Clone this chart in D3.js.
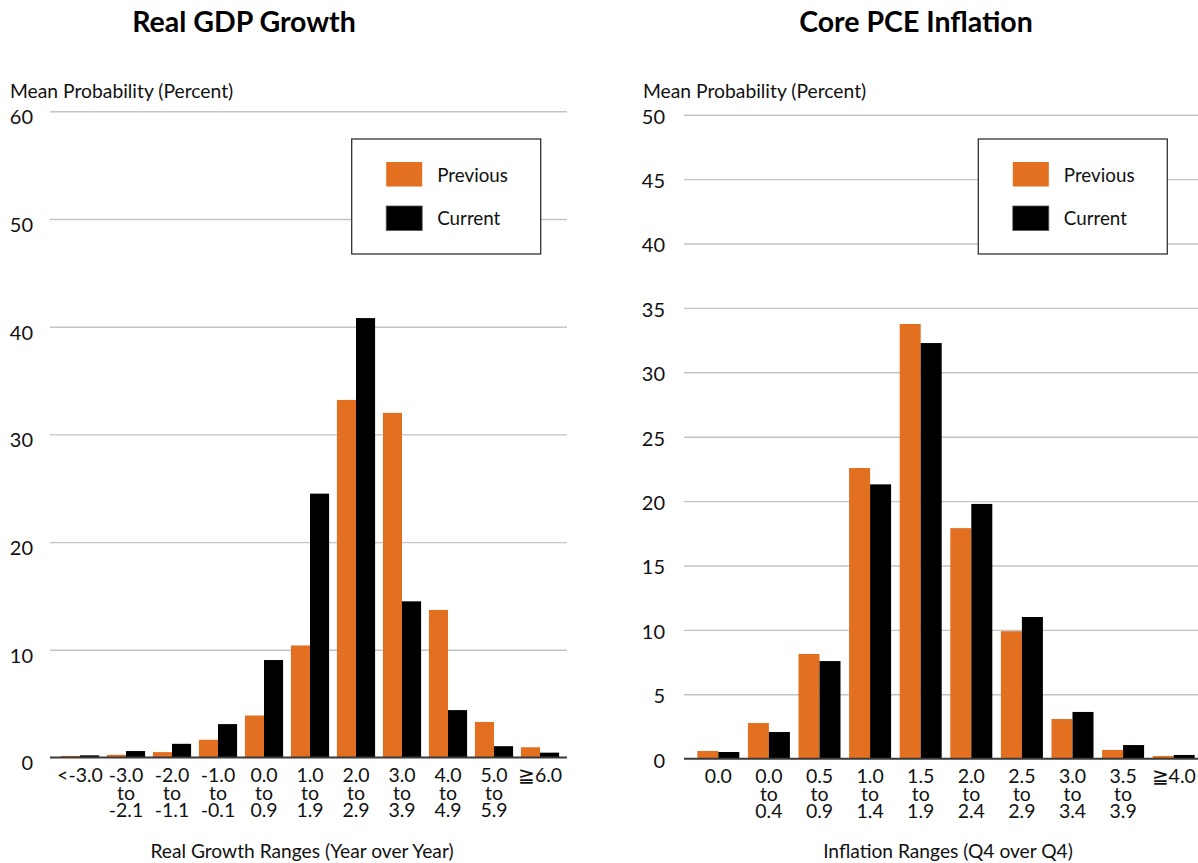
<!DOCTYPE html>
<html>
<head>
<meta charset="utf-8">
<script src="https://cdn.jsdelivr.net/npm/d3@7"></script>
<style>
  html, body { margin: 0; padding: 0; background: #fff; }
  svg { display: block; font-family: Lato, "Open Sans", sans-serif; }
</style>
</head>
<body>
<svg id="chart" width="1198" height="863"></svg>
<script>
// ---------- DATA ----------
const gdpCategories = ["<-3.0", "-3.0\nto\n-2.1", "-2.0\nto\n-1.1", "-1.0\nto\n-0.1", "0.0\nto\n0.9",
  "1.0\nto\n1.9", "2.0\nto\n2.9", "3.0\nto\n3.9", "4.0\nto\n4.9", "5.0\nto\n5.9", "\u22676.0"];
const gdpPrevious = [0.15, 0.25, 0.5, 1.65, 3.9, 10.4, 33.2, 32.0, 13.7, 3.3, 0.95];
const gdpCurrent  = [0.2, 0.6, 1.27, 3.1, 9.05, 24.5, 40.8, 14.5, 4.4, 1.05, 0.45];
const gdpTicks = [0, 10, 20, 30, 40, 50, 60];

const pceCategories = ["0.0", "0.0\nto\n0.4", "0.5\nto\n0.9", "1.0\nto\n1.4", "1.5\nto\n1.9",
  "2.0\nto\n2.4", "2.5\nto\n2.9", "3.0\nto\n3.4", "3.5\nto\n3.9", "\u22674.0"];
const pcePrevious = [0.6, 2.77, 8.13, 22.57, 33.75, 17.9, 9.9, 3.08, 0.68, 0.21];
const pceCurrent  = [0.52, 2.07, 7.58, 21.3, 32.27, 19.78, 11.0, 3.63, 1.06, 0.29];
const pceTicks = [0, 5, 10, 15, 20, 25, 30, 35, 40, 45, 50];

const seriesNames = ["Previous", "Current"];
const seriesColors = ["#e36f20", "#000000"];

// ---------- DRAW ----------
const svg = d3.select("#chart");

function panel(cfg) {
  const g = svg.append("g");
  const y = d3.scaleLinear().domain([0, cfg.ticks[cfg.ticks.length - 1]]).range([cfg.y0, cfg.yTop]);
  const x = d3.scaleBand().domain(cfg.categories).range(cfg.bandRange).paddingInner(0.17).paddingOuter(0.085);
  const xs = d3.scaleBand().domain(seriesNames).range([0, x.bandwidth()]);

  // title
  g.append("text").attr("x", cfg.titleX).attr("y", 32).attr("text-anchor", "middle")
    .attr("font-size", 28.5).attr("font-weight", "bold").attr("fill", "#000").text(cfg.title);
  // y axis caption
  g.append("text").attr("x", cfg.captionX).attr("y", 97.5).attr("font-size", 19.3).attr("fill", "#111")
    .text("Mean Probability (Percent)");

  // gridlines via axis
  const grid = g.append("g").attr("transform", `translate(${cfg.gridX0},0)`)
    .call(d3.axisLeft(y).tickValues(cfg.ticks.filter(t => t > 0)).tickSize(-(cfg.gridX1 - cfg.gridX0)).tickFormat(""));
  grid.select(".domain").remove();
  grid.selectAll(".tick line").attr("stroke", "#c4c4c4").attr("stroke-width", 1.4);

  // y tick labels
  const yl = g.append("g").attr("transform", `translate(${cfg.labelRight},0)`)
    .call(d3.axisLeft(y).tickValues(cfg.ticks).tickSize(0).tickPadding(0));
  yl.select(".domain").remove();
  yl.selectAll(".tick text").attr("font-size", 20).attr("fill", "#111").attr("font-family", "Lato, sans-serif")
    .attr("dy", cfg.labelDy);

  // bars
  const groups = g.append("g").selectAll("g").data(cfg.categories).join("g")
    .attr("transform", d => `translate(${x(d)},0)`);
  groups.selectAll("rect").data((d, i) => seriesNames.map((s, k) => ({ s, v: cfg.series[k][i], k })))
    .join("rect")
    .attr("x", d => xs(d.s)).attr("width", xs.bandwidth())
    .attr("y", d => y(d.v)).attr("height", d => y(0) - y(d.v))
    .attr("fill", d => seriesColors[d.k]);

  // baseline
  g.append("line").attr("x1", cfg.gridX0).attr("x2", cfg.gridX1).attr("y1", y(0)).attr("y2", y(0))
    .attr("stroke", "#3a3a3a").attr("stroke-width", 2);

  // x tick labels
  const xl = g.append("g").attr("transform", `translate(0,${y(0)})`)
    .call(d3.axisBottom(x).tickSize(0).tickFormat(""));
  xl.select(".domain").remove();
  xl.selectAll(".tick").each(function(d) {
    const t = d3.select(this).append("text").attr("text-anchor", "middle").attr("font-size", 19.5)
      .attr("fill", "#111").attr("font-family", "Lato, sans-serif");
    d.split("\n").forEach((line, i) => {
      t.append("tspan").attr("x", 0).attr("y", 24.5 + i * 17.5).text(line);
    });
  });

  // x axis title
  g.append("text").attr("x", cfg.xTitleX).attr("y", 857.5).attr("text-anchor", "middle")
    .attr("font-size", 19.2).attr("fill", "#111").text(cfg.xTitle);

  // legend
  const lg = g.append("g").attr("transform", `translate(${cfg.legendX},139)`);
  lg.append("rect").attr("x", 0).attr("y", 0).attr("width", 189).attr("height", 115)
    .attr("fill", "#fff").attr("stroke", "#333").attr("stroke-width", 1.3);
  seriesNames.forEach((s, k) => {
    lg.append("rect").attr("x", 34.5).attr("y", 23 + k * 44).attr("width", 36).attr("height", 24.5)
      .attr("fill", seriesColors[k]).attr("stroke", k === 1 ? "#555" : "none").attr("stroke-width", 0.8);
    lg.append("text").attr("x", 85.5).attr("y", 42.5 + k * 43).attr("font-size", 18.8).attr("fill", "#111").text(s);
  });
}

panel({
  title: "Real GDP Growth", titleX: 244, captionX: 10,
  categories: gdpCategories, series: [gdpPrevious, gdpCurrent], ticks: gdpTicks,
  y0: 757.5, yTop: 111.3, bandRange: [57, 563], gridX0: 50, gridX1: 567, labelRight: 33, labelDy: "0.62em",
  xTitle: "Real Growth Ranges (Year over Year)", xTitleX: 302, legendX: 351.7
});

panel({
  title: "Core PCE Inflation", titleX: 916, captionX: 643,
  categories: pceCategories, series: [pcePrevious, pceCurrent], ticks: pceTicks,
  y0: 758.7, yTop: 114.7, bandRange: [693, 1199], gridX0: 684, gridX1: 1198, labelRight: 665, labelDy: "0.42em",
  xTitle: "Inflation Ranges (Q4 over Q4)", xTitleX: 948, legendX: 978.3
});
</script>
</body>
</html>
